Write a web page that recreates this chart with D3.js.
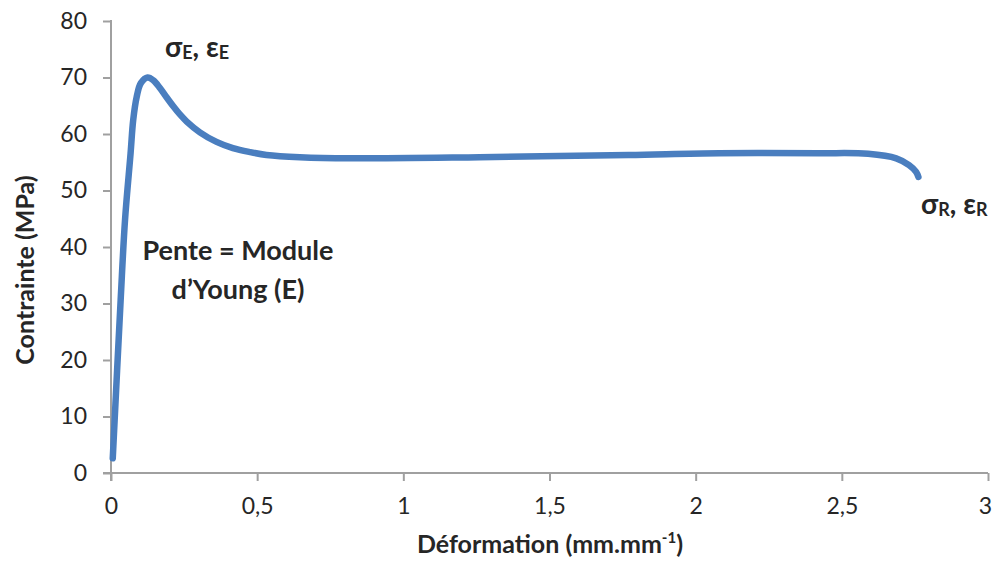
<!DOCTYPE html>
<html><head><meta charset="utf-8">
<script src="https://cdn.jsdelivr.net/npm/d3@7"></script>
<style>body{margin:0;background:#fff;} svg{display:block;font-family:Lato,"Open Sans",sans-serif;}</style>
</head><body>
<svg id="c" width="993" height="561"></svg>
<script>
const strain = [0.006,0.033,0.048,0.067,0.076,0.088,0.102,0.125,0.145,0.168,0.19,0.213,0.235,0.259,0.304,0.361,0.417,0.475,0.532,0.646,0.817,1.26,1.77,2.08,2.42,2.59,2.686,2.73,2.754,2.762];
const stress = [2.6,30.6,44.8,56.6,62.5,66.6,69.0,70.0,69.5,68.1,66.5,64.9,63.5,62.2,60.3,58.6,57.5,56.8,56.3,55.9,55.7,55.9,56.3,56.6,56.6,56.5,55.7,54.5,53.3,52.4];
const xTicks = [0,0.5,1,1.5,2,2.5,3];
const yTicks = [0,10,20,30,40,50,60,70,80];
const xTitle = "Déformation (mm.mm";
const yTitle = "Contrainte (MPa)";
const slopeLabel = ["Pente = Module", "d’Young (E)"];

const svg = d3.select("#c");
const x = d3.scaleLinear().domain([0,3]).range([111,988]);
const y = d3.scaleLinear().domain([0,80]).range([473,21]);
const fmt = d => String(d).replace(".", ",");
const axisColor = "#a0a0a0";
const textColor = "#262626";

const gx = svg.append("g").attr("transform","translate(0,473)")
  .call(d3.axisBottom(x).tickValues(xTicks).tickFormat(fmt).tickSize(8).tickPadding(17));
const gy = svg.append("g").attr("transform","translate(111,0)")
  .call(d3.axisLeft(y).tickValues(yTicks).tickSize(8).tickPadding(16));
[gx,gy].forEach(g=>{
  g.selectAll("path,line").attr("stroke",axisColor).attr("stroke-width",2);
  g.selectAll("text").attr("fill",textColor).style("font-size","23px").style("font-family","Lato, 'Open Sans', sans-serif");
});
gx.select(".domain").attr("d","M103,0H988");
gy.select(".domain").attr("d","M0,20V481");
gx.selectAll(".tick text").filter(d=>d===3).attr("dx",-3);

svg.append("path")
  .datum(strain.map((s,i)=>[s,stress[i]]))
  .attr("fill","none").attr("stroke","#4a7ebf").attr("stroke-width",6.5)
  .attr("stroke-linecap","round").attr("stroke-linejoin","round")
  .attr("d", d3.line().x(d=>x(d[0])).y(d=>y(d[1])).curve(d3.curveCatmullRom.alpha(0.5)));

// titles
const xt = svg.append("text").attr("x",550).attr("y",553).attr("text-anchor","middle")
  .attr("font-weight","bold").attr("font-size",25).attr("fill",textColor);
xt.append("tspan").text(xTitle);
xt.append("tspan").attr("font-size",15).attr("dy",-10).text("-1");
xt.append("tspan").attr("dy",10).text(")");

svg.append("text").attr("transform","translate(34,270) rotate(-90)").attr("text-anchor","middle")
  .attr("font-weight","bold").attr("font-size",25).attr("fill",textColor).text(yTitle);

function sigEps(xp, yp, sub){
  const t = svg.append("text").attr("x",xp).attr("y",yp).attr("font-weight","bold").attr("font-size",28).attr("fill",textColor);
  t.append("tspan").text("σ");
  t.append("tspan").attr("font-size",18).attr("dy",2).text(sub);
  t.append("tspan").attr("dy",-2).text(", ε");
  t.append("tspan").attr("font-size",18).attr("dy",2).text(sub);
}
sigEps(165,57,"E");
sigEps(921,214,"R");

slopeLabel.forEach((s,i)=>{
  svg.append("text").attr("x",238).attr("y",260 + i*39).attr("text-anchor","middle")
    .attr("font-weight","bold").attr("font-size",27).attr("fill",textColor).text(s);
});
</script>
</body></html>
